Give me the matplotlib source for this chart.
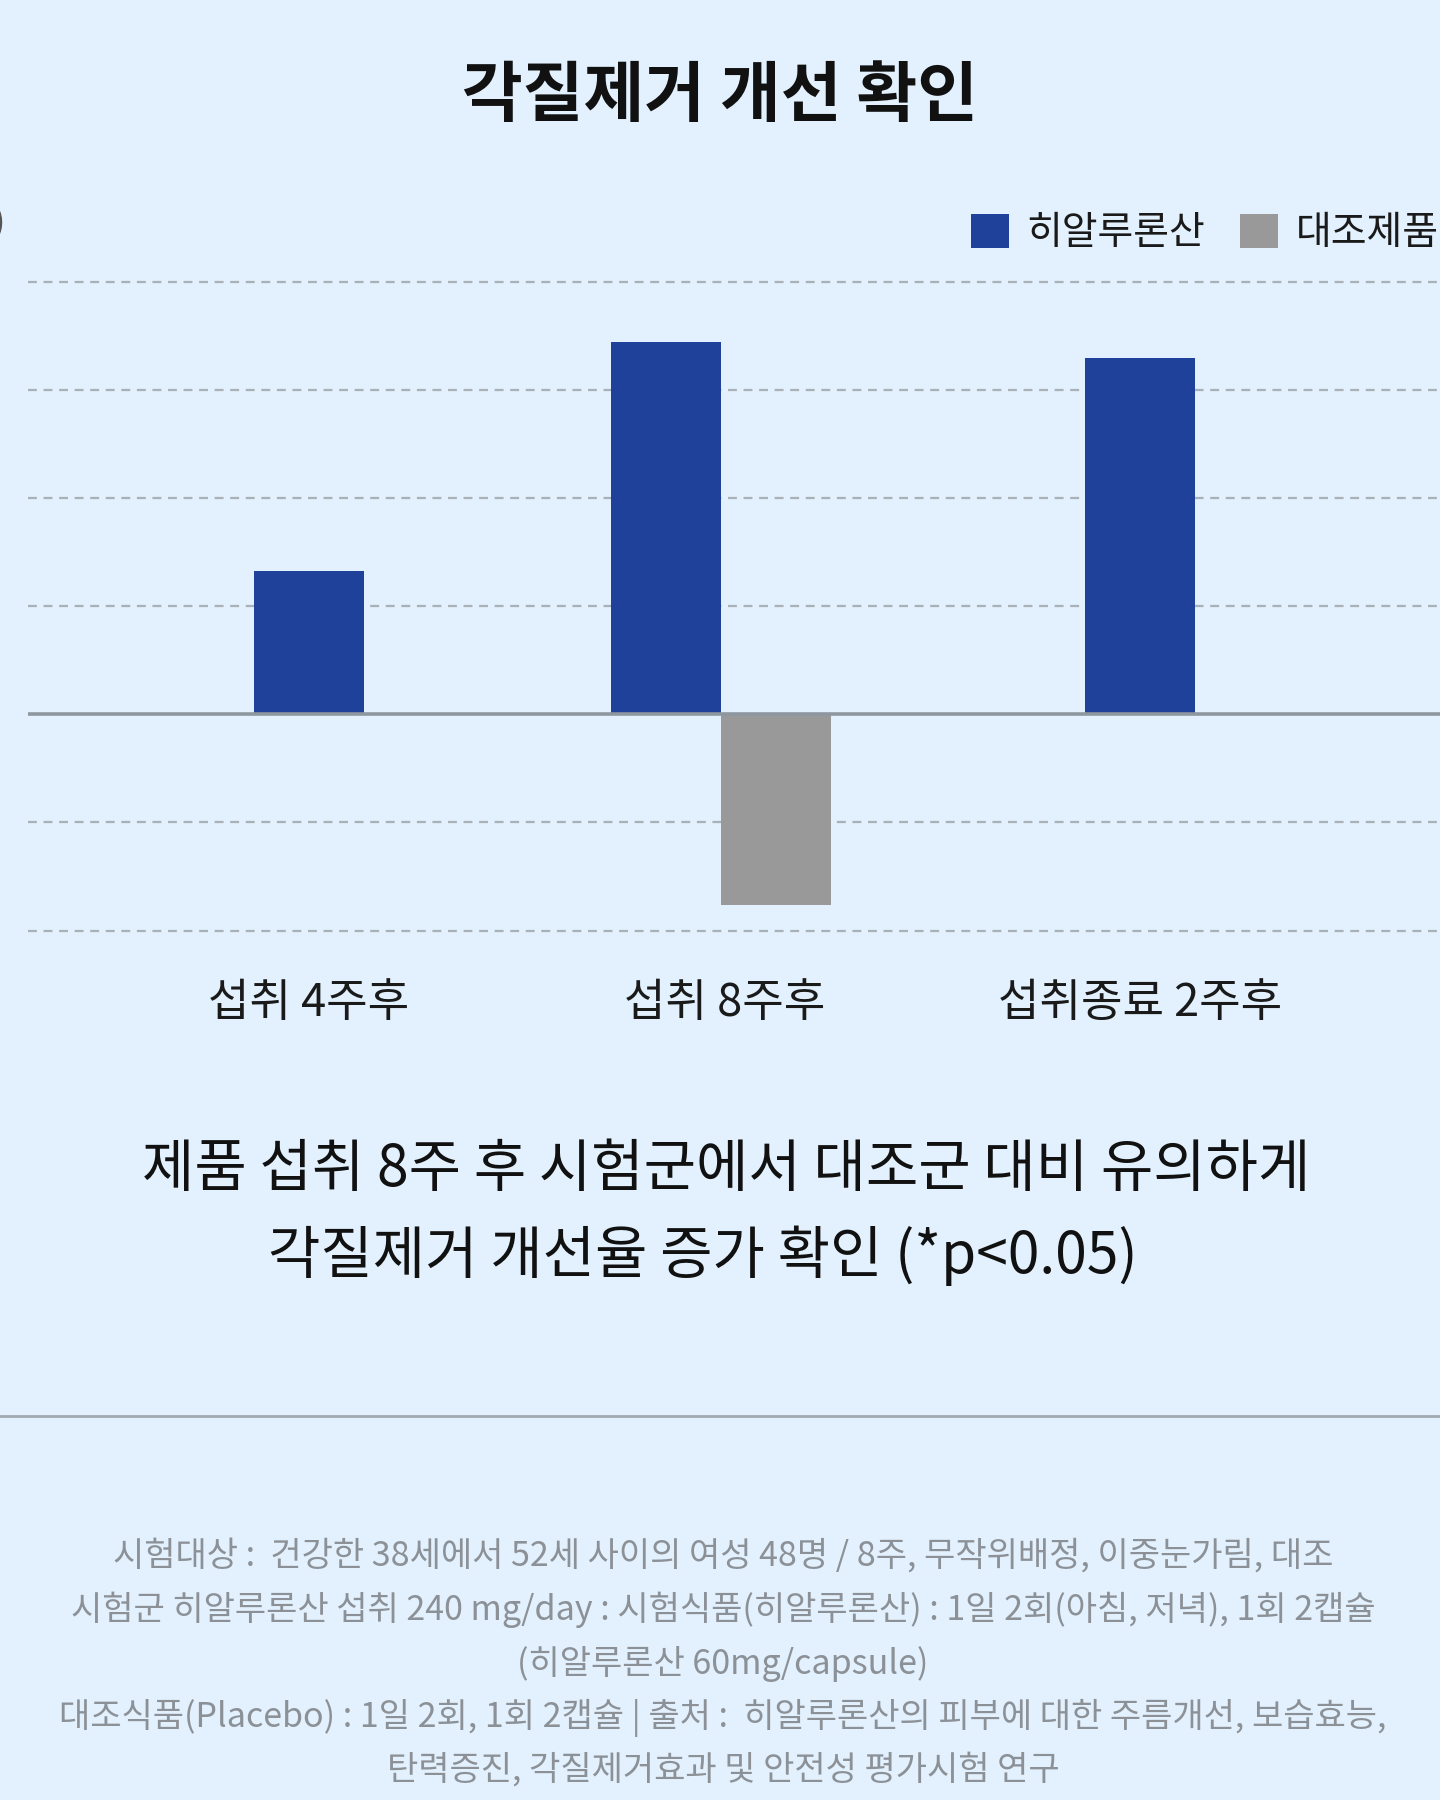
import matplotlib
matplotlib.use('Agg')
import matplotlib.pyplot as plt
from matplotlib.lines import Line2D

plt.rcParams['font.family'] = ['Noto Sans CJK KR', 'DejaVu Sans']

# data
categories = ['섭취 4주후', '섭취 8주후', '섭취종료 2주후']
series_names = ['히알루론산', '대조제품']
hyaluronic = [1.32, 3.44, 3.29]
placebo = [None, -1.76, None]   # no placebo bar in group 1 and 3
grid_ticks = [-2, -1, 1, 2, 3, 4]

title = '각질제거 개선 확인'
summary = ['제품 섭취 8주 후 시험군에서 대조군 대비 유의하게',
           '각질제거 개선율 증가 확인 (*p<0.05)']
notes = ['시험대상 :  건강한 38세에서 52세 사이의 여성 48명 / 8주, 무작위배정, 이중눈가림, 대조',
         '시험군 히알루론산 섭취 240 mg/day : 시험식품(히알루론산) : 1일 2회(아침, 저녁), 1회 2캡슐',
         '(히알루론산 60mg/capsule)',
         '대조식품(Placebo) : 1일 2회, 1회 2캡슐 | 출처 :  히알루론산의 피부에 대한 주름개선, 보습효능,',
         '탄력증진, 각질제거효과 및 안전성 평가시험 연구']

bg = '#e2f1fd'
blue = '#1f4199'
gray = '#999999'
W, H = 1440, 1800

fig = plt.figure(figsize=(14.4, 18), dpi=100, facecolor=bg)
ax = fig.add_axes([28/W, 0.4770, 1 - 28/W, 0.3726])
ax.set_facecolor(bg)

bw = 0.265
for i in range(len(categories)):
    has_p = placebo[i] is not None
    if has_p:
        ax.bar(i - bw/2 - 0.008, hyaluronic[i], bw, color=blue, zorder=3,
               label=series_names[0] if i == 1 else None)
        ax.bar(i + bw/2 - 0.008, placebo[i], bw, color=gray, zorder=3,
               label=series_names[1])
    else:
        ax.bar(i, hyaluronic[i], bw, color=blue, zorder=3)

for t in grid_ticks:
    ax.axhline(t, color='#a9b0b8', lw=1.6, ls=(0, (4, 3)), zorder=1)
ax.axhline(0, color='#8e979f', lw=2.6, zorder=4)

ax.set_xlim(-0.676, 2.722)
ax.set_ylim(-2.1, 4.1)
ax.set_yticks([])
ax.set_xticks(range(len(categories)))
ax.set_xticklabels(categories, fontsize=32.5, color='#1a1a1a')
ax.tick_params(axis='x', length=0, pad=28)
for s in ax.spines.values():
    s.set_visible(False)

leg = ax.legend(loc='upper left', bbox_to_anchor=(971/W, 1 - 213/H),
                bbox_transform=fig.transFigure, ncol=2, frameon=False,
                fontsize=28, handlelength=0.98, handleheight=0.98,
                handletextpad=0.45, columnspacing=0.9, borderpad=0,
                borderaxespad=0)
for t in leg.get_texts():
    t.set_color('#1a1a1a')

# cut-off unit label at the left edge
fig.text(0.004, 1 - 224/H, '(%)', ha='right', va='center', fontsize=25, color='#555555')

fig.text(0.5, 1 - 97/H, title, ha='center', va='center', fontsize=47.5,
         fontweight='bold', color='#111111')

fig.text(726/W, 1 - 1170/H, summary[0], ha='center', va='center', fontsize=41, color='#111111')
fig.text(703/W, 1 - 1256/H, summary[1], ha='center', va='center', fontsize=41, color='#111111')

fig.add_artist(Line2D([0, 1], [1 - 1416/H, 1 - 1416/H], color='#a0a8b0', lw=2))

note_y = [1556, 1610, 1664, 1718, 1770]
for txt, y in zip(notes, note_y):
    fig.text(0.502, 1 - y/H, txt, ha='center', va='center', fontsize=24.5, color='#8c9197')

fig.savefig('out.png', dpi=100, facecolor=bg)
